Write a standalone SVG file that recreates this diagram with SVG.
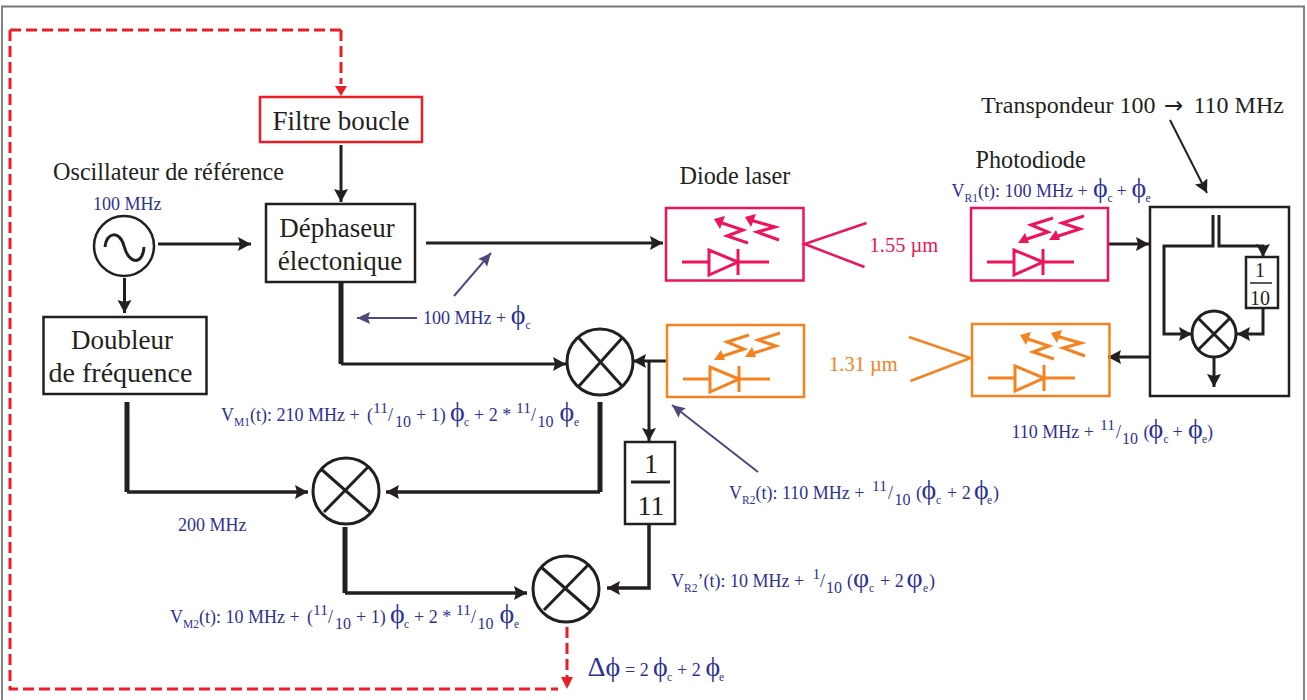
<svg xmlns="http://www.w3.org/2000/svg" width="1307" height="700" viewBox="0 0 1307 700">
<style>
text{font-family:"Liberation Serif","DejaVu Serif",serif;fill:#231f20}
.big{font-size:27px}
.lab{font-size:24.200px}
.b{fill:#2e3192;font-size:18px}
.s{font-size:11.500px}
.n{font-size:15.500px}
.m{font-size:16px}
.sy{font-size:28px}
.box{fill:#fff;stroke:#231f20;stroke-width:2.500}
.l{fill:none;stroke:#231f20;stroke-width:3}
.l2{fill:none;stroke:#231f20;stroke-width:3.500}
.t{fill:none;stroke:#231f20;stroke-width:5}
.mx{fill:#fff;stroke:#231f20;stroke-width:3}
.mxl{stroke:#231f20;stroke-width:3}
.d{fill:none;stroke:#ed1c24;stroke-width:3;stroke-dasharray:11 5}
.p{fill:none;stroke:#4c4a7c;stroke-width:2}
.ic{fill:none;stroke:currentColor;stroke-width:3}
.fr{fill:none;stroke:currentColor;stroke-width:2.500}
</style>
<defs>
<marker id="ah" markerUnits="userSpaceOnUse" markerWidth="14" markerHeight="16" refX="13" refY="7" orient="auto"><path d="M0 0L13 7L0 14L2 7Z" fill="#231f20"/></marker>
<marker id="ap" markerUnits="userSpaceOnUse" markerWidth="14" markerHeight="14" refX="13" refY="6" orient="auto"><path d="M0 0L13 6L0 12L2 6Z" fill="#4c4a7c"/></marker>
<g id="diode">
<path class="ic" d="M16 54H42M72 54H103M43 42V67L72 54ZM72 41V67"/>
</g>
<g id="laser">
<use href="#diode"/>
<path class="ic" d="M53 14L77 22L61 28L82 35M84 12L109 19L91 24L113 32"/>
<path d="M48 11L59 8L54 21ZM79 9L90 6L85 19Z" fill="currentColor"/>
</g>
<g id="photo">
<use href="#diode"/>
<path class="ic" d="M113 8L91 15L109 21L84 29M82 10L60 17L77 24L53 32"/>
<path d="M78 32L89 32L85 22ZM47 35L58 35L54 25Z" fill="currentColor"/>
</g>
</defs>
<path d="M2 700V6.500H1304V700" fill="none" stroke="#777" stroke-width="1.800"/>

<g id="connectors">
<path class="d" d="M341 30H10"/>
<path class="d" d="M341 30V84"/>
<path d="M335 86L341 96L347 86Z" fill="#ed1c24"/>
<path class="d" d="M10 30V689H558"/>
<path class="d" d="M567 627V678"/>
<path d="M561 677L567 689L573 677Z" fill="#ed1c24"/>
<path class="l" d="M341 145V202" marker-end="url(#ah)"/>
<path class="l" d="M158 244H251" marker-end="url(#ah)"/>
<path class="l" d="M124.500 278V313" marker-end="url(#ah)"/>
<path class="l" d="M426 243H663" marker-end="url(#ah)"/>
<path class="t" d="M341 282V364"/>
<path class="l" d="M341 364H566" marker-end="url(#ah)"/>
<path class="t" d="M127 402V492"/>
<path class="l2" d="M127 492H308" marker-end="url(#ah)"/>
<path class="t" d="M600 402V492"/>
<path class="l2" d="M600 492H386" marker-end="url(#ah)"/>
<path class="t" d="M345 527V593"/>
<path class="l2" d="M345 593H527" marker-end="url(#ah)"/>
<path class="l" d="M667 361H633" marker-end="url(#ah)"/>
<path class="l" d="M649 361V441" marker-end="url(#ah)"/>
<path class="l2" d="M649 524V588H607" marker-end="url(#ah)"/>
<path class="l" d="M1107 244H1149" marker-end="url(#ah)"/>
<path class="l" d="M1151 357H1108" marker-end="url(#ah)"/>
<path class="l" d="M1170 120L1207 193" style="stroke-width:2" marker-end="url(#ah)"/>
<path class="p" d="M454 296L491 253" marker-end="url(#ap)"/>
<path class="p" d="M417 318H357" marker-end="url(#ap)"/>
<path class="p" d="M758 472L672 405" marker-end="url(#ap)"/>
<path d="M866.500 223L804.500 244L864.500 267" fill="none" stroke="#ed145b" stroke-width="2.500"/>
<path d="M909 337L970.500 358L910.500 381" fill="none" stroke="#f5821f" stroke-width="2.500"/>
</g>

<g id="filtre"><rect x="260" y="97" width="162" height="45" fill="#fff" stroke="#ed1c24" stroke-width="2.500"/><text class="big" x="341" y="130" text-anchor="middle">Filtre boucle</text></g>
<g id="dephaseur"><rect class="box" x="266" y="204" width="149" height="78"/><text class="big" x="337" y="237" text-anchor="middle">Déphaseur</text><text class="big" x="340" y="270" text-anchor="middle">électonique</text></g>
<g id="doubleur"><rect class="box" x="43.500" y="317" width="163" height="77"/><text class="big" x="122" y="349" text-anchor="middle">Doubleur</text><text x="120.500" y="382" text-anchor="middle" font-size="28">de fréquence</text></g>
<g id="oscillateur"><circle cx="124" cy="246" r="30" fill="#fff" stroke="#231f20" stroke-width="2.500"/><path class="l" d="M105 247C106 232 120 230 124 246C129 265 143 265 144 247"/>
<text class="lab" x="53" y="180">Oscillateur de référence</text><text class="b" x="93" y="210">100 MHz</text></g>

<g id="m1"><circle class="mx" cx="600" cy="362" r="33"/><path class="mxl" d="M578 337L622 386M623 337L579 386"/></g>
<g id="m2"><circle class="mx" cx="346" cy="491" r="33"/><path class="mxl" d="M321 469L371 513M369 466L324 512"/></g>
<g id="m3"><circle class="mx" cx="566" cy="589" r="33"/><path class="mxl" d="M541 567L591 611M589 564L544 610"/></g>

<g id="div11"><rect class="box" x="625" y="442" width="50" height="82"/><path class="l" d="M631 482H670"/><text x="651" y="473" text-anchor="middle" font-size="28">1</text><text x="651" y="515" text-anchor="middle" font-size="28">11</text></g>

<g id="laser1" color="#ed145b"><rect class="fr" x="666" y="208" width="137.500" height="72.500"/><use href="#laser" x="666" y="208"/></g>
<g id="photo1" color="#ed145b"><rect class="fr" x="971" y="208" width="137" height="72.500"/><use href="#photo" x="971" y="208"/></g>
<g id="photo2" color="#f5821f"><rect class="fr" x="667" y="325" width="137" height="72"/><use href="#photo" x="667" y="325"/></g>
<g id="laser2" color="#f5821f"><rect class="fr" x="972" y="324" width="137.500" height="72"/><use href="#laser" x="972" y="324"/></g>

<g id="transpondeur"><rect class="box" x="1150" y="207" width="139" height="189"/>
<path class="l" d="M1213 215V246H1164V334H1192" marker-end="url(#ah)"/>
<path class="l" d="M1219 215V246H1263V257" marker-end="url(#ah)"/>
<rect class="box" x="1246" y="257" width="32" height="51"/>
<path class="l" d="M1250 283H1272" style="stroke-width:1.500"/>
<text x="1260" y="277" text-anchor="middle" font-size="20">1</text><text x="1260" y="305" text-anchor="middle" font-size="20">10</text>
<path class="l" d="M1263 308V334H1237" marker-end="url(#ah)"/>
<path class="l" d="M1214 358V387" marker-end="url(#ah)"/>
<ellipse class="mx" cx="1214" cy="334" rx="22" ry="23"/><path class="mxl" d="M1198 318L1230 350M1230 318L1198 350"/></g>

<g id="labels">
<text class="lab" x="679.500" y="184">Diode laser</text>
<text class="lab" x="975.500" y="168">Photodiode</text>
<text class="lab" x="981" y="113" style="font-size:24px">Transpondeur 100 <tspan x="1164" style="font-family:'DejaVu Sans',sans-serif" font-size="23">→</tspan><tspan x="1193.500">110 MHz</tspan></text>
<text x="869.500" y="252" font-size="20.500" style="fill:#ed145b">1.55 µm</text>
<text x="829" y="371" font-size="20.500" style="fill:#f5821f">1.31 µm</text>
<text class="b" x="178" y="531">200 MHz</text>
<text class="b" x="423" y="324">100 MHz + <tspan class="sy">ϕ</tspan><tspan class="s" dy="5">c</tspan></text>
<text class="b" x="951.500" y="197">V<tspan class="s" dy="5">R1</tspan><tspan dy="-5">(t): 100 MHz +</tspan><tspan class="sy" x="1093">ϕ</tspan><tspan class="s" dy="5" x="1107.500">c</tspan><tspan dy="-5" x="1116.500">+</tspan><tspan class="sy" x="1131.500">ϕ</tspan><tspan class="s" dy="5" x="1145.500">e</tspan></text>
<text class="b" x="1011.500" y="438">110 MHz +<tspan class="n" dy="-8" x="1100">11</tspan><tspan dy="8" x="1116">/</tspan><tspan class="m" dy="6" x="1122">10</tspan><tspan dy="-6" x="1143.500">(</tspan><tspan class="sy" x="1148.500">ϕ</tspan><tspan class="s" dy="5" x="1163.500">c</tspan><tspan dy="-5" x="1172.500">+</tspan><tspan class="sy" x="1188">ϕ</tspan><tspan class="s" dy="5" x="1202">e</tspan><tspan dy="-5" x="1207">)</tspan></text>
<text class="b" x="221" y="421">V<tspan class="s" dy="5">M1</tspan><tspan dy="-5">(t): 210 MHz + </tspan><tspan x="367">(</tspan><tspan class="n" dy="-8" x="373">11</tspan><tspan dy="8" x="388">/</tspan><tspan class="m" dy="6" x="395">10</tspan><tspan dy="-6" x="416">+ 1)</tspan><tspan class="sy" x="450">ϕ</tspan><tspan class="s" dy="5" x="464">c</tspan><tspan dy="-5" x="474">+ 2 *</tspan><tspan class="n" dy="-8" x="516">11</tspan><tspan dy="8" x="531">/</tspan><tspan class="m" dy="6" x="537.500">10</tspan><tspan class="sy" dy="-6" x="559.500">ϕ</tspan><tspan class="s" dy="5" x="574">e</tspan></text>
<text class="b" x="170" y="623">V<tspan class="s" dy="5">M2</tspan><tspan dy="-5">(t): 10 MHz + </tspan><tspan x="307">(</tspan><tspan class="n" dy="-8" x="313">11</tspan><tspan dy="8" x="328">/</tspan><tspan class="m" dy="6" x="335">10</tspan><tspan dy="-6" x="356">+ 1)</tspan><tspan class="sy" x="390">ϕ</tspan><tspan class="s" dy="5" x="404">c</tspan><tspan dy="-5" x="414">+ 2 *</tspan><tspan class="n" dy="-8" x="456">11</tspan><tspan dy="8" x="471">/</tspan><tspan class="m" dy="6" x="477.500">10</tspan><tspan class="sy" dy="-6" x="499.500">ϕ</tspan><tspan class="s" dy="5" x="514">e</tspan></text>
<text class="b" x="729" y="499">V<tspan class="s" dy="5">R2</tspan><tspan dy="-5">(t): 110 MHz +</tspan><tspan class="n" dy="-8" x="872">11</tspan><tspan dy="8" x="888">/</tspan><tspan class="m" dy="6" x="894.500">10</tspan><tspan dy="-6" x="916">(</tspan><tspan class="sy" x="921.500">ϕ</tspan><tspan class="s" dy="5" x="936">c</tspan><tspan dy="-5" x="947">+ 2</tspan><tspan class="sy" x="974">ϕ</tspan><tspan class="s" dy="5" x="987">e</tspan><tspan dy="-5" x="993">)</tspan></text>
<text class="b" x="671" y="587">V<tspan class="s" dy="5">R2</tspan><tspan dy="-5">’(t): 10 MHz +</tspan><tspan class="n" dy="-8" x="812.500">1</tspan><tspan dy="8" x="820">/</tspan><tspan class="m" dy="6" x="826">10</tspan><tspan dy="-6" x="847">(</tspan><tspan class="sy" x="853">φ</tspan><tspan class="s" dy="5" x="869">c</tspan><tspan dy="-5" x="880">+ 2</tspan><tspan class="sy" x="906.500">φ</tspan><tspan class="s" dy="5" x="923">e</tspan><tspan dy="-5" x="929">)</tspan></text>
<text class="b" x="587.500" y="676"><tspan font-size="28">Δϕ</tspan><tspan x="625">= 2</tspan><tspan class="sy" x="653">ϕ</tspan><tspan class="s" dy="5" x="667">c</tspan><tspan dy="-5" x="677">+ 2</tspan><tspan class="sy" x="705.500">ϕ</tspan><tspan class="s" dy="5" x="719">e</tspan></text>
</g>
</svg>
